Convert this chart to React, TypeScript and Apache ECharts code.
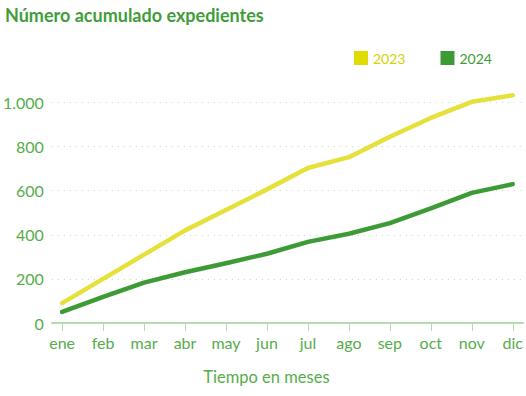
import React, { useEffect, useRef } from "react";
import * as echarts from "echarts";

const months = ["ene", "feb", "mar", "abr", "may", "jun", "jul", "ago", "sep", "oct", "nov", "dic"];
const values2023 = [90, 200, 310, 420, 512, 606, 703, 752, 845, 930, 1003, 1033];
const values2024 = [50, 118, 183, 230, 271, 314, 368, 405, 453, 520, 590, 630];
const yTicks = [0, 200, 400, 600, 800, 1000];

const YELLOW = "#e6e03a";
const GREEN = "#3d9b35";
const LABEL = "#55ad4a";
const FONT = "Lato, 'Open Sans', sans-serif";

export default function App() {
  const ref = useRef<HTMLDivElement>(null);
  useEffect(() => {
    if (!ref.current) return;
    const chart = echarts.init(ref.current, null, { renderer: "svg" });
    const idx = months.map((_, i) => i);
    chart.setOption({
      animation: false,
      textStyle: { fontFamily: FONT },
      title: {
        text: "Número acumulado expedientes",
        left: 0,
        top: 1,
        textStyle: { fontFamily: FONT, fontSize: 18, fontWeight: "bold", color: "#3f9d3a" },
      },
      legend: {
        left: 349,
        top: 46,
        icon: "rect",
        itemWidth: 14,
        itemHeight: 14,
        itemGap: 35,
        textStyle: { fontFamily: FONT, fontSize: 14 },
        data: [
          { name: "2023", itemStyle: { color: "#e0dc00" }, textStyle: { color: "#d6d200" } },
          { name: "2024", itemStyle: { color: GREEN }, textStyle: { color: GREEN } },
        ],
      },
      grid: { left: 51, right: 3, top: 102.5, bottom: 73, containLabel: false },
      xAxis: {
        type: "value",
        min: -0.25,
        max: 11.25,
        splitLine: { show: false },
        axisLine: { show: true, lineStyle: { color: "#b5dbb0", width: 2 } },
        axisTick: { show: true, customValues: idx, length: 8, lineStyle: { color: "#b5dbb0", width: 1 } },
        axisLabel: {
          customValues: idx,
          formatter: (v: number) => months[Math.round(v)],
          color: LABEL,
          fontFamily: FONT,
          fontSize: 16,
          margin: 11,
        },
        name: "Tiempo en meses",
        nameLocation: "middle",
        nameGap: 45,
        nameTextStyle: { color: LABEL, fontFamily: FONT, fontSize: 16.5, padding: [0, 42, 0, 0] },
      },
      yAxis: {
        type: "value",
        min: 0,
        max: 1000,
        interval: 200,
        axisLine: { show: false },
        axisTick: { show: false },
        axisLabel: {
          color: LABEL,
          fontFamily: FONT,
          fontSize: 16,
          margin: 8,
          formatter: (v: number) => (yTicks.includes(v) ? (v >= 1000 ? v.toLocaleString("de-DE") : String(v)) : ""),
        },
        splitLine: { show: true, lineStyle: { color: "#c9d6c3", type: [1, 5], width: 1 } },
      },
      series: [
        {
          name: "2023",
          type: "line",
          data: values2023.map((v, i) => [i, v]),
          showSymbol: false,
          clip: false,
          color: "#e0dc00",
          lineStyle: { color: YELLOW, width: 4.5, cap: "round", join: "round" },
        },
        {
          name: "2024",
          type: "line",
          data: values2024.map((v, i) => [i, v]),
          showSymbol: false,
          clip: false,
          color: GREEN,
          lineStyle: { color: GREEN, width: 4.5, cap: "round", join: "round" },
        },
      ],
    });
    return () => chart.dispose();
  }, []);
  return <div ref={ref} style={{ width: 526, height: 396, position: "absolute", left: 0, top: 0 }} />;
}
